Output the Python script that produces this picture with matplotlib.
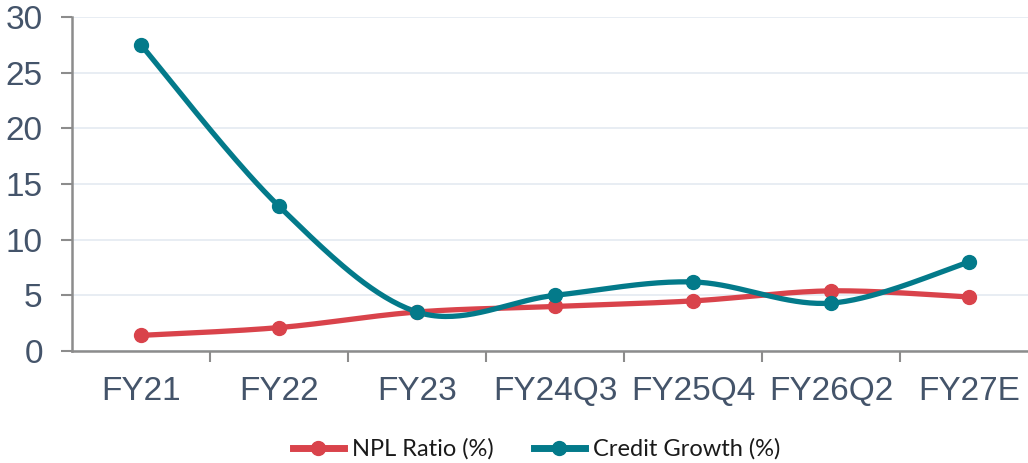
import numpy as np
import matplotlib
matplotlib.use("Agg")
from matplotlib import pyplot as plt
from matplotlib.ticker import FixedLocator

categories = ["FY21", "FY22", "FY23", "FY24Q3", "FY25Q4", "FY26Q2", "FY27E"]
npl_ratio = [1.4, 2.1, 3.5, 4.0, 4.5, 5.4, 4.85]
credit_growth = [27.5, 13.0, 3.5, 5.0, 6.2, 4.3, 8.0]
y_ticks = [0, 5, 10, 15, 20, 25, 30]

RED = "#D9434B"
TEAL = "#037A8A"
LABEL = "#44546A"
AXIS = "#8C8C8C"


def smooth(xs, ys, n=40):
    # excel-like smoothed line: cubic bezier with catmull-rom control points
    xs = np.asarray(xs, float)
    ys = np.asarray(ys, float)
    px = np.concatenate([[xs[0]], xs, [xs[-1]]])
    py = np.concatenate([[ys[0]], ys, [ys[-1]]])
    out_x, out_y = [], []
    t = np.linspace(0, 1, n)
    for i in range(1, len(px) - 2):
        p0 = np.array([px[i], py[i]])
        p3 = np.array([px[i + 1], py[i + 1]])
        p1 = p0 + (np.array([px[i + 1], py[i + 1]]) - np.array([px[i - 1], py[i - 1]])) / 6
        p2 = p3 - (np.array([px[i + 2], py[i + 2]]) - np.array([px[i], py[i]])) / 6
        b = ((1 - t) ** 3)[:, None] * p0 + (3 * (1 - t) ** 2 * t)[:, None] * p1 \
            + (3 * (1 - t) * t ** 2)[:, None] * p2 + (t ** 3)[:, None] * p3
        out_x.extend(b[:, 0])
        out_y.extend(b[:, 1])
    return out_x, out_y


fig = plt.figure(figsize=(10.28, 4.63), dpi=100)
ax = fig.add_axes([0.070, 0.242, 0.94, 0.721])

x = np.arange(len(categories))
for vals, color, name in [(npl_ratio, RED, "NPL Ratio (%)"),
                          (credit_growth, TEAL, "Credit Growth (%)")]:
    sx, sy = smooth(x, vals)
    ax.plot(sx, sy, color=color, lw=3.8, solid_capstyle="round", zorder=3)
    ax.plot(x, vals, "o", color=color, ms=10, zorder=4)
    ax.plot([], [], color=color, lw=5, marker="o", ms=10, label=name)

ax.set_xlim(-0.5, len(categories) - 0.5)
ax.set_ylim(0, 30)
ax.set_yticks(y_ticks)
ax.grid(axis="y", color="#E4EAF1", lw=1.2)
ax.set_axisbelow(True)

ax.set_xticks(x)
ax.set_xticklabels(categories)
ax.xaxis.set_minor_locator(FixedLocator(np.arange(0.5, len(categories), 1)))
ax.tick_params(axis="x", which="major", length=0, pad=18)
ax.tick_params(axis="x", which="minor", length=8, width=1.5, color=AXIS)
ax.tick_params(axis="y", length=8, width=1.5, color=AXIS, pad=13)
for lab in ax.get_xticklabels() + ax.get_yticklabels():
    lab.set_fontfamily("Liberation Sans")
    lab.set_fontsize(24)
    lab.set_color(LABEL)

for side in ["top", "right"]:
    ax.spines[side].set_visible(False)
for side in ["left", "bottom"]:
    ax.spines[side].set_color(AXIS)
    ax.spines[side].set_linewidth(1.8)

leg = fig.legend(loc="center", bbox_to_anchor=(0.522, 0.03), ncol=2, frameon=False,
                 prop={"family": "Lato", "size": 17}, handlelength=2.15,
                 columnspacing=1.7, handletextpad=0.35)
for txt in leg.get_texts():
    txt.set_color("#1A1A1A")

fig.savefig("out.png", dpi=100)
